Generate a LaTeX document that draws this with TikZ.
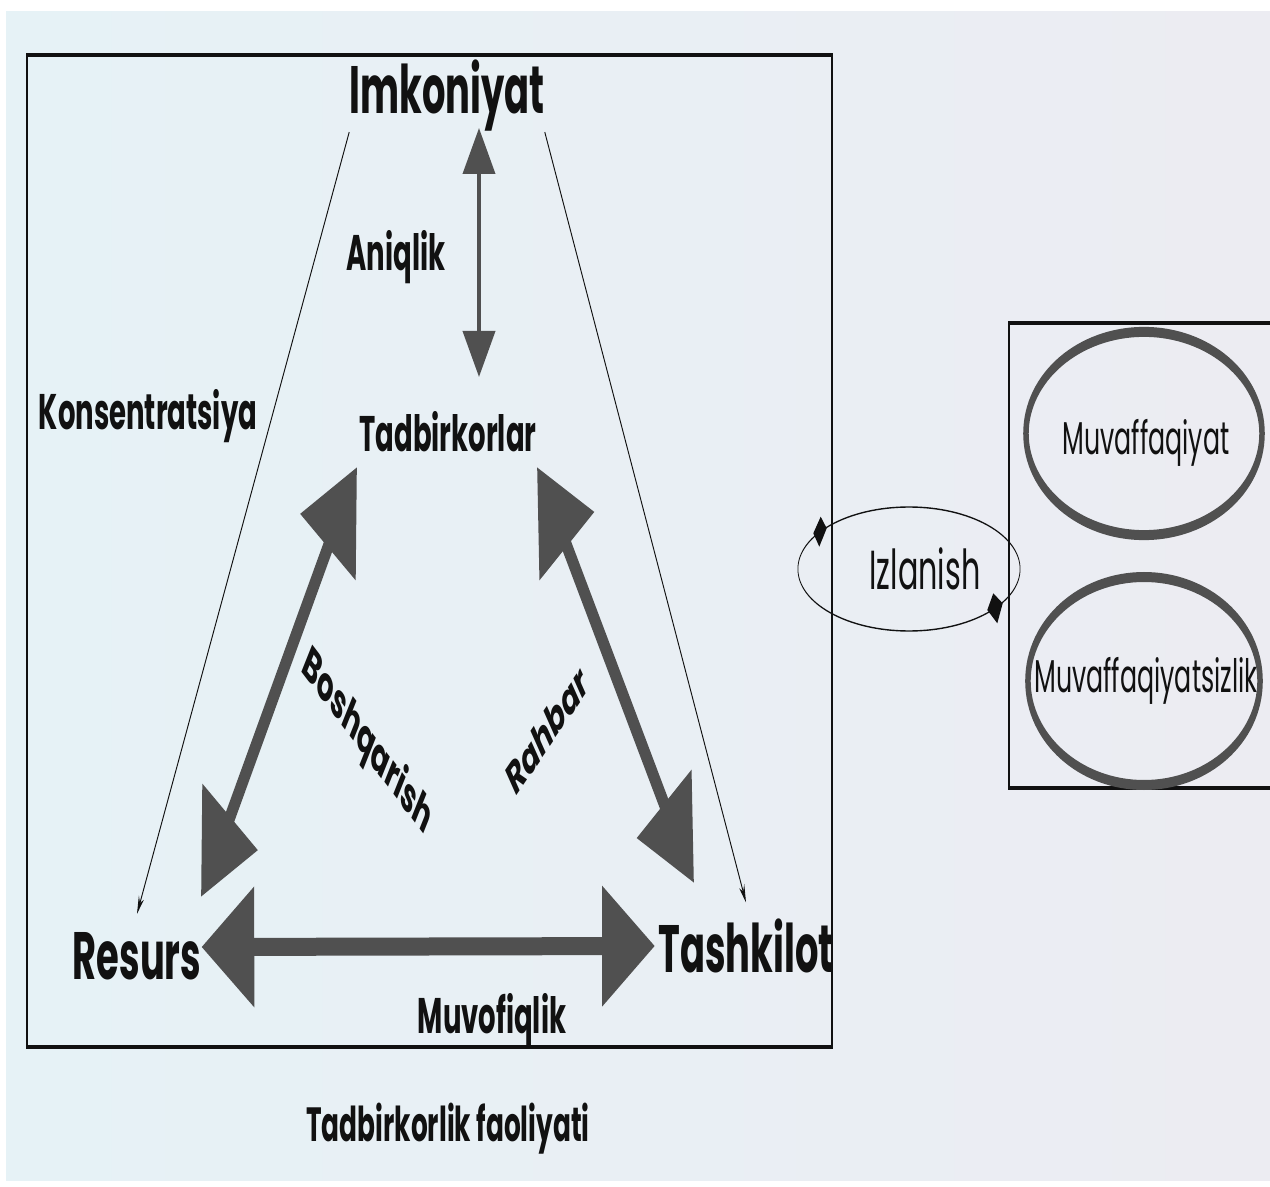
\documentclass[tikz,border=0pt]{standalone}
\usepackage{fontspec}
\setmainfont{Poppins}
\usetikzlibrary{arrows.meta,shapes.geometric}
\definecolor{ink}{HTML}{111111}
\definecolor{arr}{HTML}{505050}
\definecolor{bgL}{HTML}{E6F2F6}
\definecolor{bgR}{HTML}{ECECF2}
\begin{document}
\begin{tikzpicture}[x=0.5pt,y=-0.5pt]
\useasboundingbox (0,0) rectangle (1270,1187);
\fill[white] (0,0) rectangle (1270,1187);
\shade[left color=bgL,right color=bgR] (6,12) rectangle (1270,1180);
\begin{scope}[transform canvas={xscale=0.55}, x=0.90909pt, y=-0.5pt,
  bigtxt/.style={font=\fontsize{33.5}{36}\selectfont\bfseries, text=ink, inner sep=0pt},
  midtxt/.style={font=\fontsize{25}{28}\selectfont\bfseries, text=ink, inner sep=0pt},
  regtxt/.style={font=\fontsize{23}{26}\selectfont, text=ink, inner sep=0pt},
  boxline/.style={draw=ink, line width=2pt},
  thinarr/.style={draw=ink, line width=0.8pt, -{Stealth[length=9pt,width=5pt]}},
  bigarr/.style={draw=arr, line width=9pt, {Triangle[length=48pt,width=58pt]}-{Triangle[length=48pt,width=58pt]}},
  medarr/.style={draw=arr, line width=4pt, {Triangle[length=23pt,width=29pt]}-{Triangle[length=23pt,width=29pt]}},
  ringline/.style={draw=arr, line width=5pt}]
  % frames
  \draw[boxline] (27,55) rectangle (832,1047);
  \draw[boxline] (1009,323) rectangle (1300,788);
  % main labels
  \node[bigtxt] (imk) at (447,96) {Imkoniyat};
  \node[midtxt] (aniq) at (396,257) {Aniqlik};
  \node[midtxt] (tad) at (448,432) {Tadbirkorlar};
  \node[midtxt] (kons) at (148,416) {Konsentratsiya};
  \node[bigtxt] (res) at (137,956) {Resurs};
  \node[bigtxt] (tas) at (746,946) {Tashkilot};
  \node[midtxt] (muvo) at (492,1020) {Muvofiqlik};
  \node[midtxt, font=\fontsize{24}{27}\selectfont\bfseries] (faol) at (448,1129) {Tadbirkorlik faoliyati};
  \node[midtxt, font=\fontsize{24}{27}\selectfont\bfseries, rotate=-36] (bosh) at (367,743) {Boshqarish};
  \node[midtxt, font=\fontsize{23}{26}\selectfont\bfseries, rotate=39] (rahb) at (547,730) {Rahbar};
  % arrow end points
  \coordinate (imkS) at (479,128);
  \coordinate (tadN) at (479,377);
  \coordinate (tadL) at (357,467);
  \coordinate (resR) at (201,897);
  \coordinate (tadR) at (537,467);
  \coordinate (tasL) at (694,883);
  % thin connectors
  \draw[thinarr] (imk.south west) -- ([yshift=9pt]res.north);
  \draw[thinarr] (imk.south east) -- ([yshift=8pt]tas.north);
  % thick connectors
  \draw[medarr] (imkS) -- (tadN);
  \draw[bigarr] (tadL) -- (resR);
  \draw[bigarr] (tadR) -- (tasL);
  \draw[bigarr] ([yshift=4.5pt]res.east) -- ([xshift=-3pt]tas.west);
  % right part
  \node[draw=ink, line width=0.7pt, ellipse, inner sep=0pt, minimum width=202pt, minimum height=62pt,
        font=\fontsize{27.5}{30}\selectfont, text=ink] (izl) at (909,569) {\hspace*{29pt}Izlanish};
  \fill[ink] (820.7,516.7) -- (826.7,528.3) -- (819.3,546.7) -- (813.3,533.3) -- cycle;
  \fill[ink] (993.3,593.3) -- (1002.7,603.3) -- (997.3,623.3) -- (987.3,610) -- cycle;
  \node[regtxt] (muv) at (1146,443) {Muvaffaqiyat};
  \node[regtxt] (muvs) at (1146,681) {Muvaffaqiyatsizlik};
  \draw[ringline] (1144,433.5) ellipse [x radius=107.3pt, y radius=50.8pt];
  \draw[ringline] (1144,681) ellipse [x radius=105.5pt, y radius=52pt];
\end{scope}
\end{tikzpicture}
\end{document}
